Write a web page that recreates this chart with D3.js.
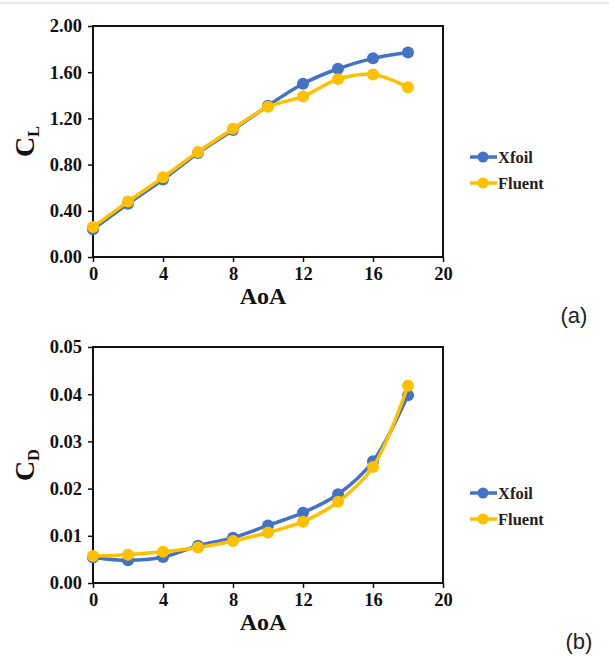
<!DOCTYPE html>
<html>
<head>
<meta charset="utf-8">
<script src="https://cdn.jsdelivr.net/npm/d3@7"></script>
<style>
  body { margin: 0; background: #fff; }
  svg { display: block; }
</style>
</head>
<body>
<div id="vis"></div>
<script>
var aoa = [0, 2, 4, 6, 8, 10, 12, 14, 16, 18];
var xTicks = [0, 4, 8, 12, 16, 20];

var clXfoil  = [0.24, 0.46, 0.67, 0.90, 1.10, 1.31, 1.50, 1.63, 1.72, 1.77];
var clFluent = [0.26, 0.48, 0.69, 0.91, 1.11, 1.30, 1.39, 1.54, 1.58, 1.47];
var clTicks  = [0, 0.4, 0.8, 1.2, 1.6, 2.0];

var cdXfoil  = [0.0054, 0.0048, 0.0055, 0.0079, 0.0096, 0.0122, 0.0149, 0.0188, 0.0258, 0.0398];
var cdFluent = [0.0057, 0.0060, 0.0066, 0.0075, 0.0089, 0.0107, 0.0130, 0.0172, 0.0246, 0.0418];
var cdTicks  = [0, 0.01, 0.02, 0.03, 0.04, 0.05];

var seriesNames = ["Xfoil", "Fluent"];
var colours = {Xfoil: "#4472c4", Fluent: "#ffc000"};

var W = 609, H = 657;
var serif = "'Liberation Serif', 'Times New Roman', serif";

var svg = d3.select("#vis").append("svg")
    .attr("width", W)
    .attr("height", H);

// faint rule along the top of the picture
svg.append("line")
    .attr("x1", 0).attr("x2", W)
    .attr("y1", 3).attr("y2", 3)
    .attr("stroke", "#e8e8e8")
    .attr("stroke-width", 2);

function panel(opts) {
  var left = 93, right = 443;
  var x = d3.scaleLinear().domain([0, 20]).range([left, right]);
  var y = d3.scaleLinear().domain(opts.yDomain).range([opts.bottom, opts.top]);

  var g = svg.append("g");

  // frame
  g.append("rect")
      .attr("x", left).attr("y", opts.top)
      .attr("width", right - left).attr("height", opts.bottom - opts.top)
      .attr("fill", "none")
      .attr("stroke", "#111")
      .attr("stroke-width", 2);

  var yAxis = g.append("g")
      .attr("transform", "translate(" + left + ",0)")
      .call(d3.axisLeft(y).tickValues(opts.yTicks).tickFormat(d3.format(opts.fmt)).tickSizeOuter(0).tickSize(5).tickPadding(6));
  var xAxis = g.append("g")
      .attr("transform", "translate(0," + opts.bottom + ")")
      .call(d3.axisBottom(x).tickValues(xTicks).tickSizeOuter(0).tickSize(5).tickPadding(5));

  [yAxis, xAxis].forEach(function (a) {
    a.select(".domain").remove();
    a.selectAll("line").attr("stroke", "#111").attr("stroke-width", 1.5);
    a.selectAll("text")
      .attr("fill", "#111")
      .style("font-family", serif)
      .style("font-weight", "bold")
      .style("font-size", "18.5px");
  });

  // x title
  g.append("text")
      .attr("x", (left + right) / 2 - 5)
      .attr("y", opts.bottom + 47)
      .attr("text-anchor", "middle")
      .style("font-family", serif)
      .style("font-weight", "bold")
      .style("font-size", "24px")
      .attr("fill", "#111")
      .text("AoA");

  // y title with subscript
  var yt = g.append("text")
      .attr("transform", "translate(34," + ((opts.top + opts.bottom) / 2) + ") rotate(-90)")
      .attr("text-anchor", "middle")
      .style("font-family", serif)
      .style("font-weight", "bold")
      .attr("fill", "#111");
  yt.append("tspan").style("font-size", "28px").text("C");
  yt.append("tspan").style("font-size", "16px").attr("dy", 5).text(opts.sub);

  var line = d3.line()
      .x(function (d) { return x(d.a); })
      .y(function (d) { return y(d.v); })
      .curve(d3.curveCatmullRom.alpha(0.5));

  opts.series.forEach(function (s, i) {
    var pts = aoa.map(function (a, j) { return {a: a, v: s[j]}; });
    var c = colours[seriesNames[i]];
    g.append("path")
        .datum(pts)
        .attr("d", line)
        .attr("fill", "none")
        .attr("stroke", c)
        .attr("stroke-width", 3.5);
    g.selectAll(".pt" + i)
        .data(pts)
        .enter()
        .append("circle")
        .attr("cx", function (d) { return x(d.a); })
        .attr("cy", function (d) { return y(d.v); })
        .attr("r", 6)
        .attr("fill", c);
  });

  // legend
  seriesNames.forEach(function (n, i) {
    var ly = opts.legendY + i * 26;
    var c = colours[n];
    g.append("line")
        .attr("x1", 470).attr("x2", 497)
        .attr("y1", ly).attr("y2", ly)
        .attr("stroke", c).attr("stroke-width", 3.5);
    g.append("circle")
        .attr("cx", 483).attr("cy", ly).attr("r", 5.5).attr("fill", c);
    g.append("text")
        .attr("x", 498).attr("y", ly + 5.5)
        .style("font-family", serif)
        .style("font-weight", "bold")
        .style("font-size", "16.5px")
        .attr("fill", "#222")
        .text(n);
  });

  g.append("text")
      .attr("x", opts.tagX).attr("y", opts.tagY)
      .attr("text-anchor", "middle")
      .style("font-family", "'Liberation Sans', Arial, sans-serif")
      .style("font-size", "22px")
      .attr("fill", "#222")
      .text(opts.tag);
}

panel({
  top: 26, bottom: 257,
  yDomain: [0, 2], yTicks: clTicks, fmt: ".2f",
  sub: "L",
  series: [clXfoil, clFluent],
  legendY: 157,
  tag: "(a)", tagX: 574, tagY: 323
});

panel({
  top: 347, bottom: 583,
  yDomain: [0, 0.05], yTicks: cdTicks, fmt: ".2f",
  sub: "D",
  series: [cdXfoil, cdFluent],
  legendY: 493,
  tag: "(b)", tagX: 579, tagY: 649
});
</script>
</body>
</html>
